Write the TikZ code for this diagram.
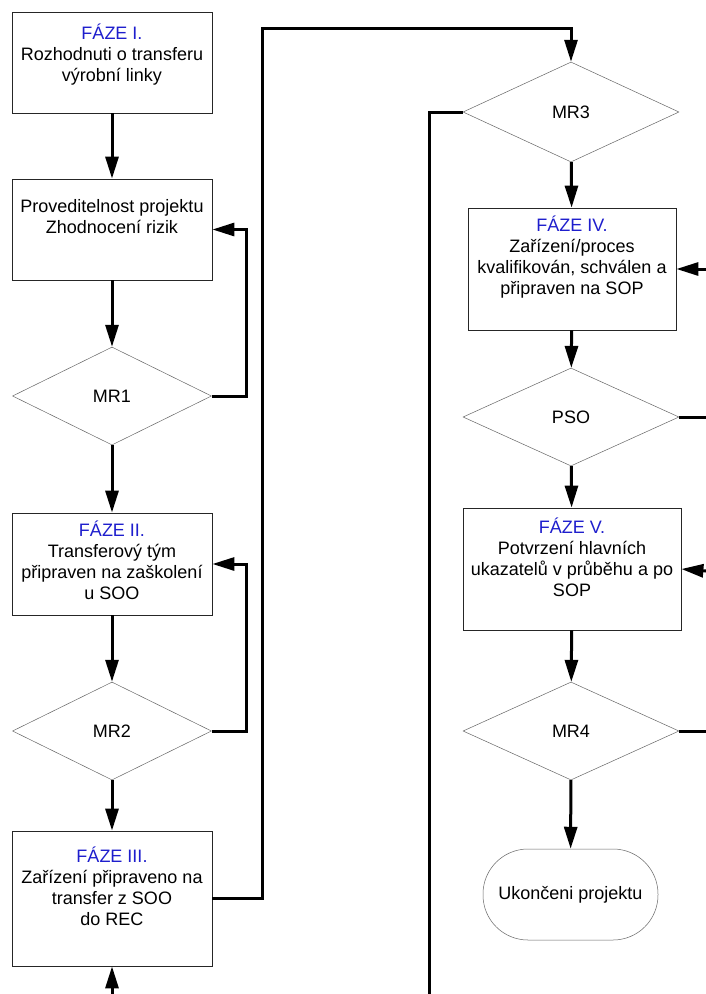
\documentclass[tikz,border=0pt]{standalone}
\usepackage{fontspec}
\setmainfont{Liberation Sans}
\usepackage{tikz}
\usetikzlibrary{shapes.geometric,arrows.meta,positioning}
\definecolor{fazeblue}{RGB}{30,30,205}

\tikzset{
  box/.style={draw=black!85, line width=0.8pt, minimum width=200pt, inner sep=0pt},
  decision/.style={diamond, draw=black!60, line width=0.5pt, minimum width=199pt, minimum height=98pt, inner sep=0pt, font=\fontsize{18}{21}\selectfont},
  txt/.style={align=center, inner sep=0pt, font=\fontsize{18}{21}\selectfont},
  conn/.style={line width=3pt, -{Triangle[length=22pt,width=13pt]}},
  wire/.style={line width=3pt},
}
\newcommand{\faze}[1]{\textcolor{fazeblue}{#1}}

\begin{document}
\begin{tikzpicture}[x=1pt,y=-1pt]
    % Page
    \fill[white] (0,0) rectangle (706,994);
    \useasboundingbox (0,0) rectangle (706,994);

    % Left column
    \node[box, minimum height=101pt] (f1) at (112,62.5) {};
    \node[txt, yshift=8pt] (t1) at (f1) {\faze{FÁZE I.}\\Rozhodnuti o transferu\\výrobní linky};
    \node[box, minimum height=101pt] (f2) at (112,229.5) {};
    \node[txt, yshift=13pt] (t2) at (f2) {Proveditelnost projektu\\Zhodnocení rizik};
    \node[decision] (mr1) at (112,396) {MR1};
    \node[box, minimum height=102pt] (f3) at (112,564) {};
    \node[txt, yshift=4pt] (t3) at (f3) {\faze{FÁZE II.}\\Transferový tým\\připraven na zaškolení\\u SOO};
    \node[decision] (mr2) at (112,731) {MR2};
    \node[box, minimum height=135pt] (f4) at (112,898.5) {};
    \node[txt, yshift=12pt] (t4) at (f4) {\faze{FÁZE III.}\\Zařízení připraveno na\\transfer z SOO\\do REC};

    % Right column
    \node[decision, minimum width=216pt, minimum height=100pt] (mr3) at (571,112) {MR3};
    \node[box, minimum width=208pt, minimum height=122pt] (f5) at (572,269) {};
    \node[txt, yshift=12pt] (t5) at (f5) {\faze{FÁZE IV.}\\Zařízení/proces\\kvalifikován, schválen a\\připraven na SOP};
    \node[decision, minimum width=216pt] (pso) at (571,417) {PSO};
    \node[box, minimum width=218pt, minimum height=122pt] (f6) at (572,569) {};
    \node[txt, yshift=12pt] (t6) at (f6) {\faze{FÁZE V.}\\Potvrzení hlavních\\ukazatelů v průběhu a po\\SOP};
    \node[decision, minimum width=216pt] (mr4) at (571,731) {MR4};
    \node[box, draw=black!60, line width=0.5pt, rounded corners=45pt, minimum width=175pt, minimum height=91pt, font=\fontsize{18}{21}\selectfont] (konec) at (570.5,894.5) {Ukončeni projektu};

    % Loose ends at the page border
    \coordinate (ohyb) at (262,28);
    \coordinate (dolL) at (112,994);
    \coordinate (dolR) at (429,994);
    \coordinate (okrajA) at (706,269);
    \coordinate (okrajB) at (706,417);
    \coordinate (okrajC) at (706,571);
    \coordinate (okrajD) at (706,731);

    % Arrows down the left column
    \draw[conn] (f1) -- (f2);
    \draw[conn] (f2) -- (mr1);
    \draw[conn] (mr1) -- (f3);
    \draw[conn] (f3) -- (mr2);
    \draw[conn] (mr2) -- (f4);
    \draw[conn] (mr1.east) -- ++(35,0) |- (f2.east);
    \draw[conn] (mr2.east) -- ++(35,0) |- (f3.east);
    \draw[conn] (dolL) -- (f4);
    \draw[conn] (f4.east) -| (ohyb) -| (mr3.north);

    % Arrows down the right column
    \draw[conn] (mr3) -- (f5);
    \draw[conn] (f5) -- (pso);
    \draw[conn] (pso) -- (f6);
    \draw[conn] (f6) -- (mr4);
    \draw[conn] (mr4) -- (konec);
    \draw[wire] (mr3.west) -| (dolR);
    \draw[wire] (pso.east) -- (okrajB);
    \draw[wire] (mr4.east) -- (okrajD);
    \draw[conn] (okrajA) -- (f5.east);
    \draw[conn] (okrajC) -- (f6.east);
\end{tikzpicture}
\end{document}
